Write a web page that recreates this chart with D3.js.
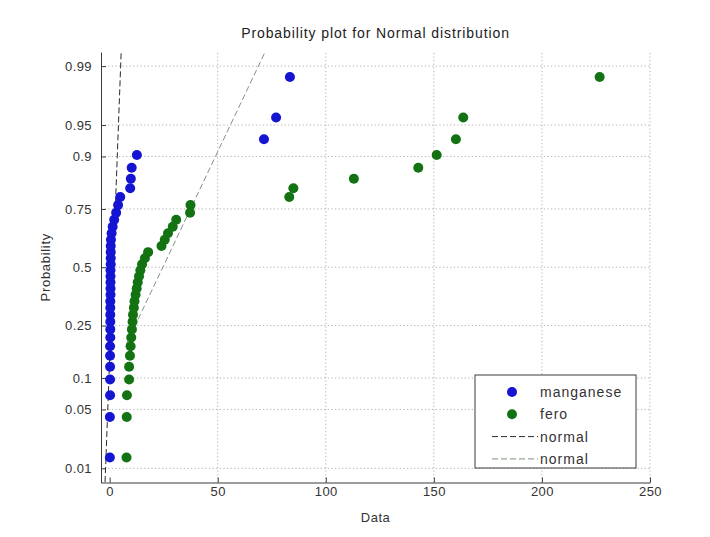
<!DOCTYPE html>
<html>
<head>
<meta charset="utf-8">
<script src="https://cdn.jsdelivr.net/npm/d3@7"></script>
<style>
  body { margin: 0; background: #fff; }
  svg { font-family: 'Liberation Sans', Arial, sans-serif; }
  .axis path, .axis line { stroke: #3a3a3a; }
  .axis text { fill: #333; font-size: 13px; letter-spacing: 0.4px; }
</style>
</head>
<body>
<svg id="chart" width="710" height="537"></svg>
<script>
// sorted sample values
const manganese = [0.1, 0.1, 0.2, 0.2, 0.2, 0.2, 0.2, 0.3, 0.3, 0.3, 0.3, 0.3,
  0.3, 0.4, 0.4, 0.4, 0.4, 0.4, 0.5, 0.5, 0.5, 0.5, 0.6, 0.9, 1.4, 2.1, 3.0,
  3.9, 4.9, 9.5, 9.8, 10.2, 12.6, 71.4, 77.0, 83.4];
const ferro = [7.8, 7.9, 8.0, 9.0, 9.0, 9.4, 9.7, 10.0, 10.3, 10.6, 10.8, 11.2,
  11.5, 12.0, 12.5, 13.0, 13.6, 14.2, 15.0, 16.3, 17.8, 24.0, 25.5, 27.0, 29.2,
  30.8, 37.2, 37.4, 83.1, 85.0, 113.0, 142.8, 151.3, 160.2, 163.6, 226.7];

// reference line fits (mean, sigma) and where each line starts in data units
const fitMu = [1.6, 24.6];
const fitSigma = [1.5, 19.0];
const fitFrom = [-4, 7.8];

const seriesNames = ['manganese', 'ferro'];
const legendLabels = ['manganese', 'fero', 'normal', 'normal'];
const xTicks = [0, 50, 100, 150, 200, 250];
const probTicks = [0.01, 0.05, 0.1, 0.25, 0.5, 0.75, 0.9, 0.95, 0.99];

const colors = ['#1414d2', '#137313'];
const lineColors = ['#2a2a2a', '#7d947d'];

// inverse normal cdf (Acklam)
function norminv(p) {
  const a = [-3.969683028665376e+01, 2.209460984245205e+02, -2.759285104469687e+02,
    1.383577518672690e+02, -3.066479806614716e+01, 2.506628277459239e+00];
  const b = [-5.447609879822406e+01, 1.615858368580409e+02, -1.556989798598866e+02,
    6.680131188771972e+01, -1.328068155288572e+01];
  const c = [-7.784894002430293e-03, -3.223964580411365e-01, -2.400758277161838e+00,
    -2.549732539343734e+00, 4.374664141464968e+00, 2.938163982698783e+00];
  const d = [7.784695709041462e-03, 3.224671290700398e-01, 2.445134137142996e+00,
    3.754408661907416e+00];
  const pl = 0.02425;
  let q, r;
  if (p < pl) {
    q = Math.sqrt(-2 * Math.log(p));
    return (((((c[0]*q+c[1])*q+c[2])*q+c[3])*q+c[4])*q+c[5]) / ((((d[0]*q+d[1])*q+d[2])*q+d[3])*q+1);
  }
  if (p <= 1 - pl) {
    q = p - 0.5; r = q * q;
    return (((((a[0]*r+a[1])*r+a[2])*r+a[3])*r+a[4])*r+a[5])*q / (((((b[0]*r+b[1])*r+b[2])*r+b[3])*r+b[4])*r+1);
  }
  q = Math.sqrt(-2 * Math.log(1 - p));
  return -(((((c[0]*q+c[1])*q+c[2])*q+c[3])*q+c[4])*q+c[5]) / ((((d[0]*q+d[1])*q+d[2])*q+d[3])*q+1);
}

const svg = d3.select('#chart');
const margin = {left: 101, right: 60, top: 52, bottom: 54.5};
const W = 710, H = 537;

const x = d3.scaleLinear().domain([-4, 250]).range([margin.left, W - margin.right]);
const y = d3.scaleLinear().domain([-2.49, 2.49]).range([H - margin.bottom, margin.top]);

svg.append('rect').attr('width', W).attr('height', H).attr('fill', '#fff');

svg.append('defs').append('clipPath').attr('id', 'plotclip')
  .append('rect')
  .attr('x', margin.left).attr('y', margin.top)
  .attr('width', W - margin.right - margin.left)
  .attr('height', H - margin.bottom - margin.top);

// grid
const grid = svg.append('g')
  .attr('stroke', '#9c9c9c')
  .attr('stroke-width', 0.8)
  .attr('stroke-dasharray', '1.2,2.4');
grid.selectAll('.gx').data(xTicks.filter(t => t > 0)).join('line')
  .attr('x1', d => x(d)).attr('x2', d => x(d))
  .attr('y1', y.range()[0]).attr('y2', y.range()[1]);
grid.selectAll('.gy').data(probTicks).join('line')
  .attr('y1', d => y(norminv(d))).attr('y2', d => y(norminv(d)))
  .attr('x1', x.range()[0]).attr('x2', x.range()[1]);

// axes
svg.append('g').attr('class', 'axis')
  .attr('transform', `translate(0,${y.range()[0]})`)
  .call(d3.axisBottom(x).tickValues(xTicks).tickSizeInner(-5).tickSizeOuter(0).tickPadding(4));
svg.append('g').attr('class', 'axis')
  .attr('transform', `translate(${x.range()[0]},0)`)
  .call(d3.axisLeft(y).tickValues(probTicks.map(norminv))
    .tickFormat((d, i) => probTicks[i]).tickSizeInner(-5).tickSizeOuter(0).tickPadding(9));

// reference lines
const plot = svg.append('g').attr('clip-path', 'url(#plotclip)');
const allData = [manganese, ferro];
allData.forEach((vals, k) => {
  const x0 = fitFrom[k], x1 = d3.max(vals);
  plot.append('line')
    .attr('x1', x(x0)).attr('y1', y((x0 - fitMu[k]) / fitSigma[k]))
    .attr('x2', x(x1)).attr('y2', y((x1 - fitMu[k]) / fitSigma[k]))
    .attr('stroke', lineColors[k])
    .attr('stroke-width', 1)
    .attr('stroke-dasharray', '6,3');
});

// points, plotted at (i - 0.5) / n
allData.forEach((vals, k) => {
  const n = vals.length;
  plot.append('g').selectAll('circle').data(vals).join('circle')
    .attr('cx', d => x(d))
    .attr('cy', (d, i) => y(norminv((i + 0.5) / n)))
    .attr('r', 5)
    .attr('fill', colors[k]);
});

// titles
svg.append('text').attr('x', (x.range()[0] + x.range()[1]) / 2).attr('y', 38)
  .attr('text-anchor', 'middle').attr('font-size', 14).attr('letter-spacing', 0.9)
  .attr('fill', '#222')
  .text('Probability plot for Normal distribution');
svg.append('text').attr('x', (x.range()[0] + x.range()[1]) / 2).attr('y', 522)
  .attr('text-anchor', 'middle').attr('font-size', 13).attr('letter-spacing', 0.5)
  .attr('fill', '#333')
  .text('Data');
svg.append('text')
  .attr('transform', `translate(50,${(y.range()[0] + y.range()[1]) / 2}) rotate(-90)`)
  .attr('text-anchor', 'middle').attr('font-size', 13).attr('letter-spacing', 0.7)
  .attr('fill', '#333')
  .text('Probability');

// legend
const leg = svg.append('g').attr('transform', 'translate(475,375)');
leg.append('rect').attr('width', 161).attr('height', 93)
  .attr('fill', '#fff').attr('stroke', '#3a3a3a').attr('stroke-width', 1);
legendLabels.forEach((lab, i) => {
  const ly = 17 + i * 22.3;
  if (i < 2) {
    leg.append('circle').attr('cx', 37).attr('cy', ly).attr('r', 5).attr('fill', colors[i]);
  } else {
    leg.append('line').attr('x1', 17).attr('x2', 63).attr('y1', ly).attr('y2', ly)
      .attr('stroke', lineColors[i - 2]).attr('stroke-dasharray', '6,3');
  }
  leg.append('text').attr('x', 65).attr('y', ly + 5)
    .attr('font-size', 14).attr('letter-spacing', 1)
    .attr('fill', '#333').text(lab);
});
</script>
</body>
</html>
